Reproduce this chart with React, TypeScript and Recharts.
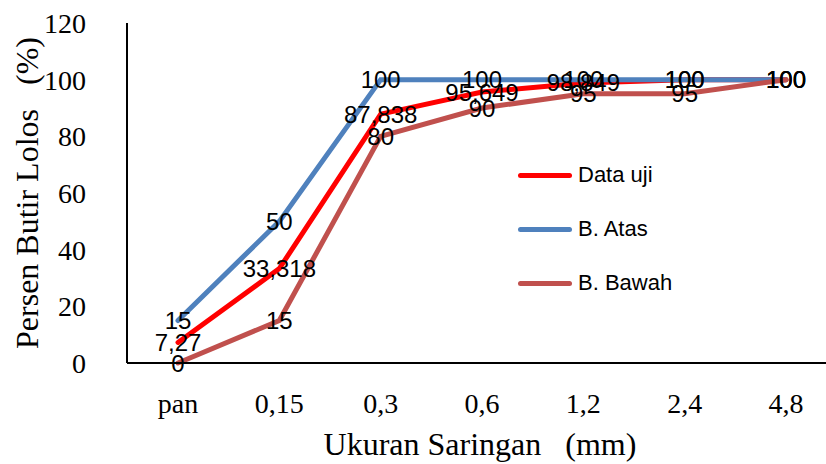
import { LineChart, Line, XAxis, YAxis, LabelList } from 'recharts';

const sieves = ['pan', '0,15', '0,3', '0,6', '1,2', '2,4', '4,8'];
const dataUji = [7.27, 33.318, 87.838, 95.649, 98.849, 100, 100];
const batasAtas = [15, 50, 100, 100, 100, 100, 100];
const batasBawah = [0, 15, 80, 90, 95, 95, 100];
const yTicks = [0, 20, 40, 60, 80, 100, 120];

const series = [
  { key: 'uji', name: 'Data uji', color: '#FF0000' },
  { key: 'atas', name: 'B. Atas', color: '#4F81BD' },
  { key: 'bawah', name: 'B. Bawah', color: '#C0504D' },
];

const chartData = sieves.map((s, i) => ({
  sieve: s,
  uji: dataUji[i],
  atas: batasAtas[i],
  bawah: batasBawah[i],
}));

const serif = '"Liberation Serif", "Times New Roman", serif';
const sans = '"Liberation Sans", Arial, sans-serif';

const fmt = (v: any) => String(v).replace('.', ',');

// legend sits inside the plot, like the Excel original
const LegendBox = () => (
  <div
    style={{
      position: 'absolute',
      left: 518,
      top: 148,
      fontFamily: sans,
      fontSize: 22,
      color: '#000',
    }}
  >
    {series.map((s) => (
      <div
        key={s.key}
        style={{ display: 'flex', alignItems: 'center', height: 54 }}
      >
        <div
          style={{
            width: 54,
            height: 5,
            borderRadius: 3,
            background: s.color,
            marginRight: 6,
          }}
        />
        <span>{s.name}</span>
      </div>
    ))}
  </div>
);

export default function App() {
  return (
    <div
      style={{
        position: 'fixed',
        top: 0,
        left: 0,
        width: 826,
        height: 464,
        overflow: 'hidden',
        background: '#fff',
      }}
    >
      <LineChart
        width={840}
        height={464}
        data={chartData}
        margin={{ top: 23, right: 3, left: 0, bottom: 0 }}
      >
        <XAxis
          dataKey="sieve"
          padding={{ left: 51, right: 51 }}
          height={101}
          axisLine={{ stroke: '#000', strokeWidth: 2 }}
          tickLine={false}
          tickSize={0}
          tickMargin={30}
          tick={{ fill: '#000', fontSize: 28, fontFamily: serif }}
          label={{
            value: 'Ukuran Saringan\u00A0\u00A0\u00A0(mm)',
            position: 'insideBottom',
            offset: 9,
            dx: -2,
            fill: '#000',
            fontSize: 32,
            fontFamily: serif,
          }}
        />
        <YAxis
          domain={[0, 120]}
          ticks={yTicks}
          width={127}
          axisLine={{ stroke: '#000', strokeWidth: 2 }}
          tickLine={false}
          tickSize={0}
          tickMargin={41}
          tick={{ fill: '#000', fontSize: 28, fontFamily: serif }}
          label={{
            value: 'Persen Butir Lolos\u00A0\u00A0\u00A0(%)',
            angle: -90,
            position: 'insideLeft',
            offset: 27,
            fill: '#000',
            fontSize: 32,
            fontFamily: serif,
            style: { textAnchor: 'middle' },
          }}
        />
        {series.map((s) => (
          <Line
            key={s.key}
            type="linear"
            dataKey={s.key}
            name={s.name}
            stroke={s.color}
            strokeWidth={5}
            strokeLinecap="round"
            dot={false}
            activeDot={false}
            isAnimationActive={false}
          />
        ))}
        {series.map((s) => (
          <Line
            key={s.key + '-lbl'}
            type="linear"
            dataKey={s.key}
            stroke="none"
            legendType="none"
            dot={false}
            activeDot={false}
            isAnimationActive={false}
          >
            <LabelList
              dataKey={s.key}
              position="center"
              formatter={fmt}
              fill="#000"
              fontSize={24}
              fontFamily={sans}
            />
          </Line>
        ))}
      </LineChart>
      <LegendBox />
    </div>
  );
}
